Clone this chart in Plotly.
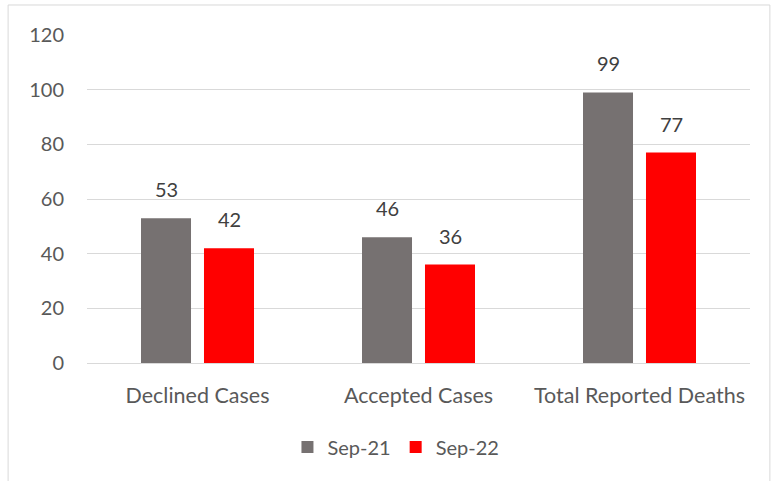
import plotly.graph_objects as go

categories = ["Declined Cases", "Accepted Cases", "Total Reported Deaths"]
sep21 = [53, 46, 99]
sep22 = [42, 36, 77]
series_names = ["Sep-21", "Sep-22"]
y_ticks = [0, 20, 40, 60, 80, 100, 120]

FONT = "Lato"
TXT = "#595959"
COLORS = ["#767171", "#FF0000"]
SHIFTS = [-31.5, 31.5]

fig = go.Figure()
annotations = []
for name, vals, col, xs in [(series_names[0], sep21, COLORS[0], SHIFTS[0]),
                            (series_names[1], sep22, COLORS[1], SHIFTS[1])]:
    fig.add_trace(go.Bar(x=categories, y=vals, name=name, marker_color=col,
                         marker_line_width=0))
    for c, v in zip(categories, vals):
        annotations.append(dict(x=c, y=v, text=str(v), showarrow=False,
                                xref="x", yref="y", yanchor="bottom",
                                xshift=xs, yshift=15,
                                font=dict(family=FONT, size=20, color="#404040")))

fig.update_layout(
    width=779, height=481,
    margin=dict(l=87, r=29, t=35, b=118),
    plot_bgcolor="white", paper_bgcolor="white",
    barmode="group", bargap=0.43, bargroupgap=0.206,
    font=dict(family=FONT, size=20, color=TXT),
    showlegend=True,
    legend=dict(orientation="h", x=0.466, xanchor="center", y=-0.256, yanchor="middle",
                font=dict(family=FONT, size=20, color=TXT), itemwidth=30,
                traceorder="normal"),
    annotations=annotations,
    shapes=[dict(type="rect", xref="paper", yref="paper",
                 x0=-0.119, x1=1.030, y0=-0.40, y1=1.0915,
                 line=dict(color="#D9D9D9", width=1), layer="below")],
)
fig.update_yaxes(range=[0, 120], tickvals=y_ticks, showgrid=True, gridcolor="#D9D9D9",
                 gridwidth=1, zeroline=False, showline=False,
                 ticklabelstandoff=22, tickfont=dict(family=FONT, size=20, color=TXT))
fig.update_xaxes(showline=True, linecolor="#D9D9D9", linewidth=1, showgrid=False,
                 ticklabelstandoff=13, tickfont=dict(family=FONT, size=21.5, color=TXT))

fig.write_html("out.html", config={"displayModeBar": False},
               post_script="document.body.style.margin='0px';")
